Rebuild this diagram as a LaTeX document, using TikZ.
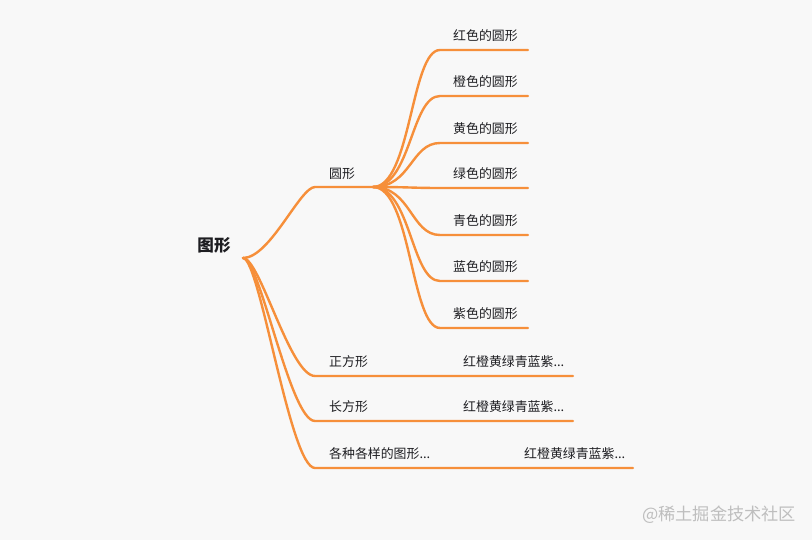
\documentclass[tikz,border=0pt]{standalone}
\usepackage{fontspec}
\newfontfamily\cjk{Noto Sans CJK SC}
\definecolor{bgc}{RGB}{248,248,248}
\definecolor{linkc}{RGB}{246,143,58}
\definecolor{txtc}{RGB}{30,30,34}
\definecolor{wmc}{RGB}{190,190,190}
\tikzset{
  link/.style={draw=linkc,line width=2.4pt,line cap=round},
  lbl/.style={anchor=west,inner sep=0pt,text=txtc,font=\cjk\fontsize{12.9}{14}\selectfont},
  rootlbl/.style={inner sep=0pt,text=txtc,font=\cjk\bfseries\fontsize{16.6}{18}\selectfont},
  wm/.style={anchor=west,inner sep=0pt,text=wmc,font=\cjk\fontsize{17.2}{19}\selectfont}
}
\begin{document}
\begin{tikzpicture}[x=1pt,y=-1pt]
\fill[bgc] (0,0) rectangle (812,540);
\useasboundingbox (0,0) rectangle (812,540);
% root
\node[rootlbl] (rootn) at (214,245) {图形};
\coordinate (root) at (243,258);
% circle branch
\coordinate (c1s) at (315,187);
\coordinate (c1e) at (373,187);
\node[lbl] (yuan) at (329,174) {圆形};
\draw[link] (root) .. controls +(27,0) and +(-15,0) .. (c1s) -- (c1e);
% children of circle
\foreach \i/\y/\t in {1/50/红色的圆形,2/96/橙色的圆形,3/143/黄色的圆形,4/188/绿色的圆形,5/235/青色的圆形,6/281/蓝色的圆形,7/328/紫色的圆形}{
  \coordinate (k\i) at (440,\y);
  \coordinate (k\i e) at (528,\y);
  \node[lbl] (kt\i) at (453,\y-14.5) {\t};
  \draw[link] (c1e) .. controls +(38,0) and +(-29,0) .. (k\i) -- (k\i e);
}
% square
\coordinate (s1) at (315,376);
\coordinate (s1e) at (573,376);
\node[lbl] (sq) at (329,361.5) {正方形};
\node[lbl] (sqc) at (463,361.5) {红橙黄绿青蓝紫...};
\draw[link] (root) .. controls +(17,0) and +(-25,0) .. (s1) -- (s1e);
% rectangle
\coordinate (s2) at (315,421);
\coordinate (s2e) at (573,421);
\node[lbl] (re) at (329,406.5) {长方形};
\node[lbl] (rec) at (463,406.5) {红橙黄绿青蓝紫...};
\draw[link] (root) .. controls +(17,0) and +(-25,0) .. (s2) -- (s2e);
% various
\coordinate (s3) at (315,468);
\coordinate (s3e) at (633,468);
\node[lbl] (va) at (329,453.5) {各种各样的图形...};
\node[lbl] (vac) at (524,453.5) {红橙黄绿青蓝紫...};
\draw[link] (root) .. controls +(17,0) and +(-25,0) .. (s3) -- (s3e);
% watermark
\node[wm] (wmark) at (642,515) {@稀土掘金技术社区};
\end{tikzpicture}
\end{document}
